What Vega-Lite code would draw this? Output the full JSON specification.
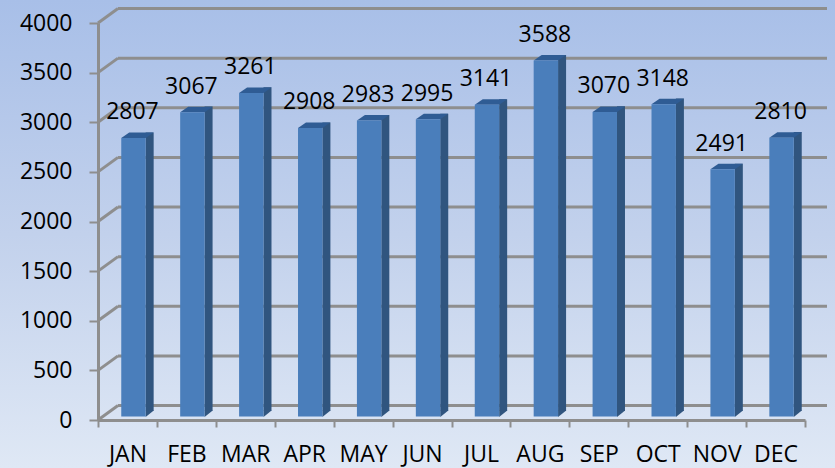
{
"$schema":"https://vega.github.io/schema/vega-lite/v6.json",
"width":835,"height":468,"padding":0,"autosize":{"type":"none"},
"config":{"view":{"stroke":null,"fill":{"gradient":"linear","x1":0,"y1":0,"x2":0,"y2":1,"stops":[{"offset":0,"color":"#A8BFE8"},{"offset":0.5,"color":"#C2D1EC"},{"offset":1,"color":"#DFE8F5"}]}}},
"datasets":{
"months":[{"m":"JAN","v":2807},{"m":"FEB","v":3067},{"m":"MAR","v":3261},{"m":"APR","v":2908},{"m":"MAY","v":2983},{"m":"JUN","v":2995},{"m":"JUL","v":3141},{"m":"AUG","v":3588},{"m":"SEP","v":3070},{"m":"OCT","v":3148},{"m":"NOV","v":2491},{"m":"DEC","v":2810}],
"ticks":[{"t":0},{"t":500},{"t":1000},{"t":1500},{"t":2000},{"t":2500},{"t":3000},{"t":3500},{"t":4000}]
},
"resolve":{"scale":{"x":"independent"}},
"layer":[
{"data":{"name":"ticks"},
 "layer":[
 {"mark":{"type":"rule","color":"#8E8E8E","strokeWidth":3,"xOffset":20,"x2Offset":20,"yOffset":-14.5,"y2Offset":-14.5},
  "encoding":{"x":{"datum":0,"type":"quantitative","scale":{"domain":[0,1],"range":[98,807]},"axis":null},"x2":{"datum":1},
  "y":{"field":"t","type":"quantitative","scale":{"domain":[0,4000],"range":[420,23],"nice":false},
   "axis":{"orient":"left","offset":-98,"title":null,"format":"d","values":[0,500,1000,1500,2000,2500,3000,3500,4000],"grid":false,"domainColor":"#8E8E8E","domainWidth":3,"tickColor":"#8E8E8E","tickWidth":2,"tickSize":9,"labelFont":"Open Sans","labelFontSize":23,"labelColor":"#000000","labelPadding":17}}}},
 {"mark":{"type":"point","filled":false,"stroke":"#8E8E8E","strokeWidth":3,"opacity":1,"size":4,"shape":"M0,0L20,-14.5"},
  "encoding":{"x":{"datum":0,"type":"quantitative"},"y":{"field":"t","type":"quantitative"}}}
 ]},
{"data":{"name":"months"},
 "encoding":{"x":{"field":"m","type":"nominal","sort":null,"scale":{"range":[98,805],"paddingInner":0,"paddingOuter":0},
   "axis":{"orient":"bottom","offset":-48,"title":null,"labelAngle":0,"domainColor":"#8E8E8E","domainWidth":3,"tickColor":"#8E8E8E","tickWidth":2,"tickSize":7,"tickBand":"extent","labelFont":"Open Sans","labelFontSize":23,"labelColor":"#000000","labelPadding":16}},
  "y":{"field":"v","type":"quantitative"}},
 "layer":[
 {"mark":{"type":"bar","width":8,"xOffset":22.2,"yOffset":-9,"y2Offset":-9,"fill":"#30557F"}},
 {"mark":{"type":"point","filled":true,"fill":"#30557F","stroke":null,"opacity":1,"size":4,"xOffset":6,"yOffset":-3.4,"shape":"M12.2,0.5L12.2,-6L20.3,-6Z"},"encoding":{"y":{"datum":0,"type":"quantitative"}}},
 {"mark":{"type":"point","filled":true,"fill":"#2F5C94","stroke":null,"opacity":1,"size":4,"xOffset":6,"yOffset":-3.4,"shape":"M-12.2,0L12.2,0L20.2,-5.5L-4.2,-5.5Z"}},
 {"mark":{"type":"bar","width":24.4,"xOffset":6,"yOffset":-3.4,"y2Offset":-3.4,"fill":"#4A7EBB"}},
 {"mark":{"type":"text","font":"Open Sans","fontSize":23,"color":"#000000","dx":5,"dy":-22,"baseline":"alphabetic"},"encoding":{"text":{"field":"v","type":"quantitative","format":"d"}}}
 ]}
]
}
